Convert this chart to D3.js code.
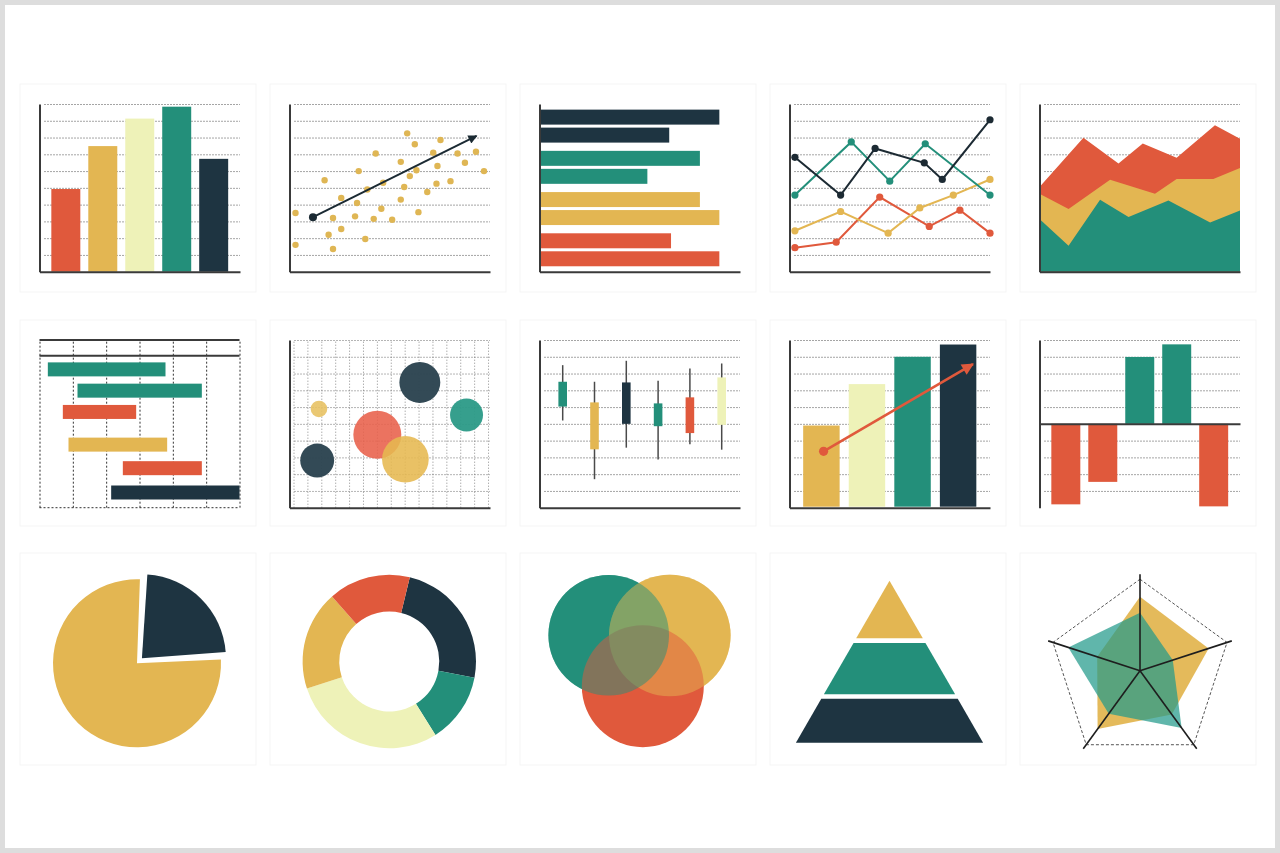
<!DOCTYPE html>
<html>
<head>
<meta charset="utf-8">
<script src="https://cdn.jsdelivr.net/npm/d3@7"></script>
<style>
  html, body { margin: 0; padding: 0; background: #fff; overflow: hidden; }
</style>
</head>
<body>
<script>
// === palette
var RED = '#e0593c', YELLOW = '#e3b652', PALE = '#eef2b8', TEAL = '#238f7a', NAVY = '#1e3441';
var AXIS = '#3a3a3a';

// === data (y in grid units 0-10, x in 0-100)
var gridTicks = [1, 2, 3, 4, 5, 6, 7, 8, 9, 10];

// 1. column chart
var barValues = [4.93, 7.49, 9.13, 9.84, 6.73];
var barColors = [RED, YELLOW, PALE, TEAL, NAVY];

// 2. scatter with trend arrow
var scatterPoints = [
  [3, 3.5], [3, 1.6], [17.5, 5.45], [19.5, 2.2], [21.7, 3.2], [21.7, 1.35], [25.8, 4.4], [25.8, 2.55],
  [32.7, 3.3], [33.7, 4.1], [34.5, 6.0], [37.8, 1.95], [38.8, 4.9], [42, 3.15], [43, 7.05], [45.8, 3.75],
  [46.7, 5.3], [51.2, 3.1], [55.5, 6.55], [55.5, 4.3], [57.2, 5.05], [58.7, 8.25], [60, 5.7], [62.5, 7.6],
  [63.3, 6.05], [64.3, 3.55], [68.7, 4.75], [71.7, 7.1], [73.3, 5.25], [73.8, 6.3], [75.3, 7.85], [80.3, 5.4],
  [83.8, 7.05], [87.5, 6.5], [93, 7.15], [97, 6.0]
];
var trendStart = [11.7, 3.25], trendEnd = [93.3, 8.1];

// 3. grouped horizontal bars
var hbarGroups = [0, 1, 2, 3];
var hbarValues = [[89.7, 64.7], [80, 53.8], [80, 89.7], [65.6, 89.7]];
var hbarColors = [NAVY, TEAL, YELLOW, RED];

// 4. line chart
var lineTeal   = [[2.7, 4.57], [30.8, 7.74], [50, 5.4], [67.7, 7.63], [100, 4.57]];
var lineNavy   = [[2.7, 6.82], [25.5, 4.57], [42.7, 7.35], [67.2, 6.49], [76.2, 5.5], [100, 9.06]];
var lineYellow = [[2.7, 2.44], [25.5, 3.59], [49.2, 2.3], [65, 3.8], [81.7, 4.57], [100, 5.5]];
var lineRed    = [[2.7, 1.43], [23.3, 1.76], [45, 4.45], [69.7, 2.7], [85, 3.67], [100, 2.3]];

// 5. layered area chart (top edge of each layer)
var areaRed    = [[0, 5.05], [21.9, 7.99], [39.4, 6.45], [51.5, 7.65], [68.4, 6.79], [87.5, 8.74], [100, 7.93]];
var areaYellow = [[0, 4.65], [14.5, 3.74], [35.2, 5.49], [57.6, 4.65], [68.4, 5.53], [86.7, 5.53], [100, 6.19]];
var areaTeal   = [[0, 3.14], [14.5, 1.54], [30.2, 4.29], [44.4, 3.26], [64.3, 4.25], [85.1, 2.93], [100, 3.65]];

// 6. gantt
var ganttStart = [0.25, 1.14, 0.7, 0.87, 2.5, 2.15];
var ganttEnd   = [3.78, 4.87, 2.9, 3.83, 4.87, 6.0];
var ganttRow   = [0.9, 2.3, 3.7, 5.85, 7.4, 9.0];
var ganttColors = [TEAL, TEAL, RED, YELLOW, RED, NAVY];

// 7. bubbles
var bubbleX = [65, 88.3, 14.7, 43.8, 57.8, 13.8];
var bubbleY = [7.47, 5.53, 5.89, 4.35, 2.89, 2.81];
var bubbleSize = [67, 43.6, 11, 92, 87, 46];
var bubbleColors = ['#2c4451', '#2b9a87', '#e8c264', '#e8604a', '#e6b850', '#2c4451'];
var bubbleOpacity = [0.97, 0.95, 0.9, 0.88, 0.88, 0.97];

// 8. candlesticks
var candleHigh = [8.5, 7.51, 8.76, 7.57, 8.3, 8.6];
var candleLow  = [5.2, 1.7, 3.58, 2.87, 3.78, 3.46];
var candleTop  = [7.51, 6.28, 7.47, 6.22, 6.58, 7.77];
var candleBottom = [6.03, 3.48, 5.0, 4.86, 4.45, 4.94];
var candleColors = [TEAL, YELLOW, NAVY, TEAL, RED, PALE];

// 9. growth bars with arrow
var growthValues = [4.9, 7.37, 9.0, 9.73];
var growthColors = [YELLOW, PALE, TEAL, NAVY];
var growthStart = [17, 3.36], growthEnd = [91.5, 8.56];

// 10. positive / negative bars
var divValues = [-4.8, -3.46, 3.99, 4.74, -4.92];
var divTicks = [-4, -3, -2, -1, 1, 2, 3, 4, 5];

// 11. pie
var pieValues = [23, 77];
var pieColors = [NAVY, YELLOW];

// 12. donut
var donutValues = [24.2, 13.1, 28.9, 18.6, 15.3];
var donutColors = [NAVY, TEAL, PALE, YELLOW, RED];

// 13. venn (offsets from tile centre)
var vennX = [-31.3, 29.8, 2.8];
var vennY = [-25.8, -25.5, 25.2];
var vennR = [60.3, 60.8, 61];
var vennColors = [TEAL, YELLOW, RED];

// 14. pyramid (level boundaries, bottom to top)
var pyramidLevels = [0, 28.5, 63, 100];
var pyramidColors = [NAVY, TEAL, YELLOW];

// 15. radar
var radarYellow = [80.9, 78.9, 59, 78.8, 49.2];
var radarTeal   = [63.4, 37.6, 77.4, 58.1, 82.4];

// === layout
var W = 1280, H = 853;
var COL_LEFT = 39.5, COL_STEP = 250, PLOT_W = 200.5, PLOT_H = 167.7;
var ROW_BOTTOM = [271.7, 507.7];

var svg = d3.select('body').append('svg')
  .attr('width', W)
  .attr('height', H);

// outer frame
svg.append('rect')
  .attr('x', 2.5).attr('y', 2.5)
  .attr('width', W - 5).attr('height', H - 5)
  .attr('fill', '#fff')
  .attr('stroke', '#dddddd')
  .attr('stroke-width', 5);

// faint tiles behind each chart
var tileRows = [[84, 292], [320, 526], [553, 765]];
tileRows.forEach(function(r) {
  d3.range(5).forEach(function(c) {
    svg.append('rect')
      .attr('x', 20 + COL_STEP * c).attr('y', r[0])
      .attr('width', 236).attr('height', r[1] - r[0])
      .attr('fill', 'none')
      .attr('stroke', '#f5f5f5');
  });
});

var defs = svg.append('defs');
function arrowMarker(id, color, w, h) {
  defs.append('marker')
    .attr('id', id)
    .attr('viewBox', '0 0 10 10')
    .attr('refX', 9).attr('refY', 5)
    .attr('markerUnits', 'userSpaceOnUse')
    .attr('markerWidth', w).attr('markerHeight', h)
    .attr('orient', 'auto')
    .append('path')
    .attr('d', 'M0,0L10,5L0,10z')
    .attr('fill', color);
}
arrowMarker('arrowNavy', '#1b2a33', 12, 9);
arrowMarker('arrowRed', RED, 17, 12);

function panel(col, row, yDomain) {
  var left = COL_LEFT + col * COL_STEP, bottom = ROW_BOTTOM[row];
  return {
    g: svg.append('g'),
    left: left, right: left + PLOT_W, bottom: bottom, top: bottom - PLOT_H,
    x: d3.scaleLinear().domain([0, 100]).range([left, left + PLOT_W]),
    y: d3.scaleLinear().domain(yDomain || [0, 10]).range([bottom, bottom - PLOT_H])
  };
}

// dotted gridlines
function hGrid(p, values, color) {
  p.g.append('g')
    .attr('transform', `translate(${p.left + 5},0)`)
    .call(d3.axisRight(p.y).tickValues(values).tickSize(PLOT_W - 5).tickFormat(''))
    .call(function(g) {
      g.select('.domain').remove();
      g.selectAll('line')
        .attr('stroke', color || '#4a4a4a')
        .attr('stroke-dasharray', '1,2');
    });
}

function axes(p, withBottom) {
  p.g.append('g')
    .attr('transform', `translate(${p.left},0)`)
    .call(d3.axisLeft(p.y).tickValues([]).tickSizeOuter(0))
    .select('.domain').attr('stroke', AXIS).attr('stroke-width', 2);
  if (withBottom !== false) {
    p.g.append('g')
      .attr('transform', `translate(0,${p.bottom})`)
      .call(d3.axisBottom(p.x).tickValues([]).tickSizeOuter(0))
      .select('.domain').attr('stroke', AXIS).attr('stroke-width', 2);
  }
}

// === 1. column chart
var p1 = panel(0, 0);
hGrid(p1, gridTicks);
var xb1 = d3.scaleBand().domain(d3.range(barValues.length))
  .range([p1.left, p1.right]).paddingInner(0.216).paddingOuter(0.32);
p1.g.selectAll('rect.bar').data(barValues).join('rect')
  .attr('class', 'bar')
  .attr('x', (d, i) => xb1(i))
  .attr('width', xb1.bandwidth())
  .attr('y', d => p1.y(d))
  .attr('height', d => p1.y(0) - p1.y(d))
  .attr('fill', (d, i) => barColors[i]);
axes(p1);

// === 2. scatter
var p2 = panel(1, 0);
hGrid(p2, gridTicks);
p2.g.selectAll('circle.dot').data(scatterPoints).join('circle')
  .attr('class', 'dot')
  .attr('cx', d => p2.x(d[0]))
  .attr('cy', d => p2.y(d[1]))
  .attr('r', 3.2)
  .attr('fill', '#dfb654');
p2.g.append('line')
  .attr('x1', p2.x(trendStart[0])).attr('y1', p2.y(trendStart[1]))
  .attr('x2', p2.x(trendEnd[0])).attr('y2', p2.y(trendEnd[1]))
  .attr('stroke', '#1b2a33').attr('stroke-width', 2)
  .attr('marker-end', 'url(#arrowNavy)');
p2.g.append('circle')
  .attr('cx', p2.x(trendStart[0])).attr('cy', p2.y(trendStart[1]))
  .attr('r', 4).attr('fill', '#1b2a33');
axes(p2);

// === 3. grouped horizontal bars
var p3 = panel(2, 0);
var yg3 = d3.scaleBand().domain(hbarGroups)
  .range([p3.top + 1.5, p3.bottom - 1.3]).paddingInner(0.2).paddingOuter(0.1);
var yi3 = d3.scaleBand().domain([0, 1]).range([0, yg3.bandwidth()]).paddingInner(0.167);
hbarGroups.forEach(function(gi) {
  p3.g.selectAll('rect.g' + gi).data(hbarValues[gi]).join('rect')
    .attr('class', 'g' + gi)
    .attr('x', p3.x(0))
    .attr('y', (d, i) => yg3(gi) + yi3(i))
    .attr('height', yi3.bandwidth())
    .attr('width', d => p3.x(d) - p3.x(0))
    .attr('fill', hbarColors[gi]);
});
axes(p3);

// === 4. line chart
var p4 = panel(3, 0);
hGrid(p4, gridTicks);
var line4 = d3.line().x(d => p4.x(d[0])).y(d => p4.y(d[1]));
[[lineRed, RED], [lineYellow, YELLOW], [lineTeal, TEAL], [lineNavy, '#1c2a33']].forEach(function(s) {
  p4.g.append('path')
    .datum(s[0])
    .attr('d', line4)
    .attr('fill', 'none')
    .attr('stroke', s[1])
    .attr('stroke-width', 2);
  p4.g.selectAll(null).data(s[0]).join('circle')
    .attr('cx', d => p4.x(d[0]))
    .attr('cy', d => p4.y(d[1]))
    .attr('r', 3.6)
    .attr('fill', s[1]);
});
axes(p4);

// === 5. layered area
var p5 = panel(4, 0);
hGrid(p5, gridTicks);
var area5 = d3.area().x(d => p5.x(d[0])).y0(p5.y(0)).y1(d => p5.y(d[1]));
[[areaRed, RED], [areaYellow, YELLOW], [areaTeal, TEAL]].forEach(function(s) {
  p5.g.append('path').datum(s[0]).attr('d', area5).attr('fill', s[1]);
});
axes(p5);

// === 6. gantt
var g6 = svg.append('g');
var gx = d3.scaleLinear().domain([0, 6]).range([COL_LEFT, COL_LEFT + 200]);
var gy = d3.scaleLinear().domain([0, 10]).range([ROW_BOTTOM[1] - 152, ROW_BOTTOM[1]]);
var headerTop = gy(0) - 15.7;
g6.append('g')
  .attr('transform', `translate(0,${gy(10)})`)
  .call(d3.axisBottom(gx).tickValues(d3.range(0, 7)).tickSize(-(gy(10) - headerTop)).tickFormat(''))
  .call(function(g) {
    g.select('.domain').remove();
    g.selectAll('line').attr('stroke', '#333').attr('stroke-dasharray', '2,2');
  });
g6.append('line')
  .attr('x1', gx(0)).attr('x2', gx(6)).attr('y1', gy(10)).attr('y2', gy(10))
  .attr('stroke', '#333').attr('stroke-dasharray', '2,2');
[headerTop, gy(0)].forEach(function(yy) {
  g6.append('line')
    .attr('x1', gx(0)).attr('x2', gx(6)).attr('y1', yy).attr('y2', yy)
    .attr('stroke', AXIS).attr('stroke-width', 2);
});
g6.selectAll('rect.task').data(ganttStart).join('rect')
  .attr('class', 'task')
  .attr('x', (d, i) => gx(d))
  .attr('width', (d, i) => gx(ganttEnd[i]) - gx(d))
  .attr('y', (d, i) => gy(ganttRow[i]) - 7)
  .attr('height', 14)
  .attr('fill', (d, i) => ganttColors[i]);

// === 7. bubbles
var p7 = panel(1, 1);
var bubbleGridX = d3.range(2, 100, 6.93);
p7.g.append('g')
  .attr('transform', `translate(0,${p7.bottom})`)
  .call(d3.axisBottom(p7.x).tickValues(bubbleGridX).tickSize(-PLOT_H).tickFormat(''))
  .call(function(g) {
    g.select('.domain').remove();
    g.selectAll('line').attr('stroke', '#8a8a8a').attr('stroke-dasharray', '1,2');
  });
hGrid(p7, gridTicks, '#6a6a6a');
var r7 = d3.scaleSqrt().domain([0, 100]).range([0, 25]);
p7.g.selectAll('circle.bubble').data(bubbleX).join('circle')
  .attr('class', 'bubble')
  .attr('cx', d => p7.x(d))
  .attr('cy', (d, i) => p7.y(bubbleY[i]))
  .attr('r', (d, i) => r7(bubbleSize[i]))
  .attr('fill', (d, i) => bubbleColors[i])
  .attr('fill-opacity', (d, i) => bubbleOpacity[i]);
axes(p7);

// === 8. candlesticks
var p8 = panel(2, 1);
hGrid(p8, gridTicks);
var x8 = d3.scalePoint().domain(d3.range(candleHigh.length)).range([p8.left + 23.2, p8.right - 18.3]);
p8.g.selectAll('line.wick').data(candleHigh).join('line')
  .attr('class', 'wick')
  .attr('x1', (d, i) => x8(i)).attr('x2', (d, i) => x8(i))
  .attr('y1', d => p8.y(d)).attr('y2', (d, i) => p8.y(candleLow[i]))
  .attr('stroke', '#4a4a4a').attr('stroke-width', 1.5);
p8.g.selectAll('rect.body').data(candleTop).join('rect')
  .attr('class', 'body')
  .attr('x', (d, i) => x8(i) - 4.3)
  .attr('width', 8.6)
  .attr('y', d => p8.y(d))
  .attr('height', (d, i) => p8.y(candleBottom[i]) - p8.y(d))
  .attr('fill', (d, i) => candleColors[i]);
axes(p8);

// === 9. growth bars with arrow
var p9 = panel(3, 1);
hGrid(p9, gridTicks);
var xb9 = d3.scaleBand().domain(d3.range(growthValues.length))
  .range([p9.left, p9.right]).paddingInner(0.2).paddingOuter(0.3);
p9.g.selectAll('rect.bar').data(growthValues).join('rect')
  .attr('class', 'bar')
  .attr('x', (d, i) => xb9(i))
  .attr('width', xb9.bandwidth())
  .attr('y', d => p9.y(d))
  .attr('height', d => p9.y(0) - p9.y(d) - 1)
  .attr('fill', (d, i) => growthColors[i]);
p9.g.append('line')
  .attr('x1', p9.x(growthStart[0])).attr('y1', p9.y(growthStart[1]))
  .attr('x2', p9.x(growthEnd[0])).attr('y2', p9.y(growthEnd[1]))
  .attr('stroke', RED).attr('stroke-width', 2.6)
  .attr('marker-end', 'url(#arrowRed)');
p9.g.append('circle')
  .attr('cx', p9.x(growthStart[0])).attr('cy', p9.y(growthStart[1]))
  .attr('r', 4.6).attr('fill', RED);
axes(p9);

// === 10. positive / negative bars
var p10 = panel(4, 1, [-5, 5]);
hGrid(p10, divTicks);
var xb10 = d3.scaleBand().domain(d3.range(divValues.length))
  .range([p10.left, p10.right]).paddingInner(0.216).paddingOuter(0.32);
p10.g.selectAll('rect.bar').data(divValues).join('rect')
  .attr('class', 'bar')
  .attr('x', (d, i) => xb10(i))
  .attr('width', xb10.bandwidth())
  .attr('y', d => p10.y(Math.max(0, d)))
  .attr('height', d => Math.abs(p10.y(d) - p10.y(0)))
  .attr('fill', d => d < 0 ? RED : TEAL);
p10.g.append('g')
  .attr('transform', `translate(0,${p10.y(0)})`)
  .call(d3.axisBottom(p10.x).tickValues([]).tickSizeOuter(0))
  .select('.domain').attr('stroke', AXIS).attr('stroke-width', 2);
axes(p10, false);

// === 11. pie with exploded slice
var pieG = svg.append('g').attr('transform', 'translate(137,663.3)');
var pie11 = d3.pie().sort(null).startAngle(0.05).endAngle(0.05 + 2 * Math.PI).padAngle(0.03);
var arc11 = d3.arc().innerRadius(0).outerRadius(84);
pieG.selectAll('path').data(pie11(pieValues)).join('path')
  .attr('d', arc11)
  .attr('fill', (d, i) => pieColors[i])
  .attr('transform', function(d, i) {
    if (i !== 0) return null;
    var a = (d.startAngle + d.endAngle) / 2;
    return `translate(${7 * Math.sin(a)},${-7 * Math.cos(a)})`;
  });

// === 12. donut
var donutG = svg.append('g').attr('transform', 'translate(389.3,661.5)');
var pie12 = d3.pie().sort(null).startAngle(0.239).endAngle(0.239 + 2 * Math.PI);
var arc12 = d3.arc().innerRadius(50).outerRadius(86.7);
donutG.selectAll('path').data(pie12(donutValues)).join('path')
  .attr('d', arc12)
  .attr('fill', (d, i) => donutColors[i]);

// === 13. venn
var vx = d3.scaleLinear().domain([-100, 100]).range([540, 740]);
var vy = d3.scaleLinear().domain([-100, 100]).range([561, 761]);
var vennG = svg.append('g');
function vennCircle(i, opacity) {
  vennG.append('circle')
    .attr('cx', vx(vennX[i]))
    .attr('cy', vy(vennY[i]))
    .attr('r', vx(vennR[i]) - vx(0))
    .attr('fill', vennColors[i])
    .attr('fill-opacity', opacity);
}
// solid layers, then translucent layers so every overlap mixes
[0, 1, 2].forEach(i => vennCircle(i, 1));
vennCircle(1, 0.5);
vennCircle(0, 0.5);

// === 14. pyramid
var py = d3.scaleLinear().domain([0, 100]).range([742.7, 580.7]);
var px = d3.scaleLinear().domain([-100, 100]).range([889.5 - 93.6, 889.5 + 93.6]);
var pyramidGap = 1.4;
var pyramidG = svg.append('g');
pyramidColors.forEach(function(c, i) {
  var lo = pyramidLevels[i] + (i > 0 ? pyramidGap : 0);
  var hi = pyramidLevels[i + 1] - (i < pyramidColors.length - 1 ? pyramidGap : 0);
  var pts = [[-(100 - lo), lo], [100 - lo, lo], [100 - hi, hi], [-(100 - hi), hi]];
  pyramidG.append('path')
    .attr('d', d3.line().x(d => px(d[0])).y(d => py(d[1]))(pts) + 'Z')
    .attr('fill', c);
});

// === 15. radar
var radarG = svg.append('g').attr('transform', 'translate(1140,670.7)');
var rr = d3.scaleLinear().domain([0, 100]).range([0, 91.5]);
var angle = i => i * 2 * Math.PI / 5;
var radial = d3.lineRadial().angle((d, i) => angle(i)).radius(d => rr(d)).curve(d3.curveLinearClosed);
radarG.append('path')
  .attr('d', radial([100, 100, 100, 100, 100]))
  .attr('fill', 'none')
  .attr('stroke', '#555')
  .attr('stroke-width', 1)
  .attr('stroke-dasharray', '3,2');
radarG.append('path')
  .attr('d', radial(radarYellow))
  .attr('fill', YELLOW).attr('fill-opacity', 0.95);
radarG.append('path')
  .attr('d', radial(radarTeal))
  .attr('fill', '#239a8a').attr('fill-opacity', 0.72);
radarG.selectAll('line.spoke').data(d3.range(5)).join('line')
  .attr('class', 'spoke')
  .attr('x1', 0).attr('y1', 0)
  .attr('x2', i => rr(105.5) * Math.sin(angle(i)))
  .attr('y2', i => -rr(105.5) * Math.cos(angle(i)))
  .attr('stroke', '#1e1e1e')
  .attr('stroke-width', 1.6);
</script>
</body>
</html>
